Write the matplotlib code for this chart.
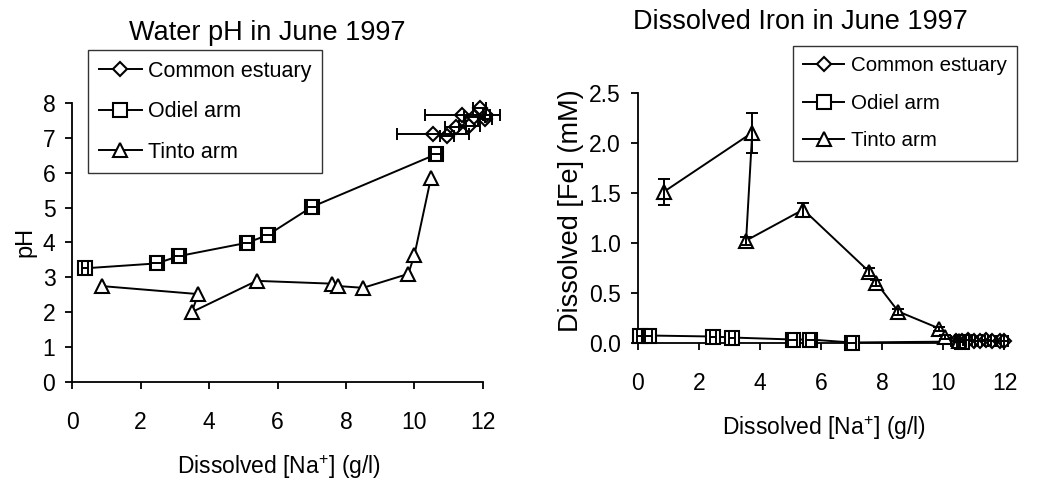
import matplotlib.pyplot as plt
from matplotlib.lines import Line2D

plt.rcParams['font.family'] = 'Liberation Sans'
plt.rcParams['mathtext.fontset'] = 'custom'
plt.rcParams['mathtext.rm'] = 'Liberation Sans'
plt.rcParams['mathtext.it'] = 'Liberation Sans'

# water pH, June 1997
ph_estuary_na = [10.55, 10.95, 11.2, 11.4, 11.6, 11.75, 11.9, 12.05, 12.1]
ph_estuary = [7.1, 7.05, 7.3, 7.65, 7.35, 7.6, 7.85, 7.55, 7.65]
ph_estuary_err = [1.05, 0.2, 0.3, 1.1, 0.3, 0.3, 0.2, 0.2, 0.1]
ph_odiel_na = [0.38, 2.47, 3.12, 5.1, 5.71, 7.0, 10.63]
ph_odiel = [3.26, 3.4, 3.61, 3.99, 4.21, 5.02, 6.53]
ph_odiel_err = [0.1, 0.15, 0.15, 0.15, 0.15, 0.15, 0.15]
ph_tinto_na = [0.87, 3.69, 3.49, 5.39, 7.58, 7.78, 8.5, 9.82, 10.0, 10.48]
ph_tinto = [2.75, 2.52, 2.0, 2.9, 2.82, 2.75, 2.7, 3.1, 3.65, 5.85]

# dissolved iron, June 1997
fe_estuary_na = [10.4, 10.6, 10.8, 11.0, 11.2, 11.4, 11.6, 11.85, 12.0]
fe_estuary = [0.02, 0.02, 0.03, 0.02, 0.02, 0.03, 0.02, 0.02, 0.02]
fe_estuary_err = [0.15, 0.15, 0.15, 0.15, 0.15, 0.15, 0.15, 0.15, 0.1]
fe_odiel_na = [0.08, 0.36, 2.48, 3.08, 5.08, 5.65, 7.0, 10.6]
fe_odiel = [0.07, 0.07, 0.06, 0.05, 0.03, 0.03, 0.0, 0.01]
fe_odiel_err = [0.1, 0.1, 0.1, 0.1, 0.15, 0.15, 0.15, 0.1]
fe_tinto_na = [0.87, 3.75, 3.55, 5.42, 7.57, 7.8, 8.53, 9.87, 10.05, 10.5]
fe_tinto = [1.51, 2.1, 1.02, 1.33, 0.71, 0.6, 0.31, 0.14, 0.06, 0.02]
fe_tinto_err = [0.13, 0.2, 0.04, 0.07, 0.04, 0.03, 0.03, 0.02, 0.02, 0.01]

labels = ["Common estuary", "Odiel arm", "Tinto arm"]
markers = ["D", "s", "^"]

fig = plt.figure(figsize=(10.38, 4.82), dpi=100)
ax1 = fig.add_axes([0.0694, 0.2075, 0.3959, 0.5788])
ax2 = fig.add_axes([0.6142, 0.2894, 0.3535, 0.5183])


def series(ax, x, y, m, s, xerr=None, yerr=None):
    ax.plot(x, y, color="black", lw=1.4, marker=m, ms=s, mfc="white",
            mec="black", mew=1.5, clip_on=False, zorder=3)
    if xerr is not None or yerr is not None:
        ax.errorbar(x, y, xerr=xerr, yerr=yerr, fmt="none", ecolor="black",
                    elinewidth=1.4, capsize=4, capthick=1.4, clip_on=False, zorder=4)


series(ax1, ph_estuary_na, ph_estuary, "D", 7, xerr=ph_estuary_err)
series(ax1, ph_odiel_na, ph_odiel, "s", 10, xerr=ph_odiel_err)
series(ax1, ph_tinto_na, ph_tinto, "^", 10)

series(ax2, fe_estuary_na, fe_estuary, "D", 7, xerr=fe_estuary_err)
series(ax2, fe_odiel_na, fe_odiel, "s", 10, xerr=fe_odiel_err)
series(ax2, fe_tinto_na, fe_tinto, "^", 10, yerr=fe_tinto_err)

for ax in (ax1, ax2):
    for side in ("top", "right"):
        ax.spines[side].set_visible(False)
    for side in ("left", "bottom"):
        ax.spines[side].set_linewidth(1.3)
    ax.set_xlim(0, 12)
    ax.set_xticks([0, 2, 4, 6, 8, 10, 12])
    ax.tick_params(direction="out", length=5, width=1.3, labelsize=16.5)
    ax.tick_params(axis="x", pad=16)
    ax.tick_params(axis="y", pad=7)

ax1.set_ylim(0, 8)
ax1.set_yticks(range(9))
ax2.set_ylim(0, 2.5)
ax2.set_yticks([0, 0.5, 1.0, 1.5, 2.0, 2.5])
ax2.set_yticklabels(["0.0", "0.5", "1.0", "1.5", "2.0", "2.5"])

fig.text(267 / 1038, 1 - 33 / 482, "Water pH in June 1997", fontsize=19.5,
         ha="center", va="center")
fig.text(800 / 1038, 1 - 22 / 482, "Dissolved Iron in June 1997", fontsize=19.5,
         ha="center", va="center")

fig.text(279 / 1038, 1 - 467 / 482, r"Dissolved [Na$^{+}$] (g/l)", fontsize=16.5,
         ha="center", va="center")
fig.text(824 / 1038, 1 - 428 / 482, r"Dissolved [Na$^{+}$] (g/l)", fontsize=16.5,
         ha="center", va="center")
fig.text(25 / 1038, 1 - 242 / 482, "pH", fontsize=17, rotation=90,
         ha="center", va="center")
fig.text(571 / 1038, 1 - 211 / 482, "Dissolved [Fe] (mM)", fontsize=19.5,
         rotation=90, ha="center", va="center")

handles = [Line2D([], [], color="black", lw=1.4, marker=m, ms=s, mfc="white",
                  mec="black", mew=1.5) for m, s in zip(markers, [7, 10, 10])]

for x0, y0, fs in [(88, 50, 15.5), (793, 46, 14.8)]:
    leg = fig.legend(handles, labels, loc="upper left",
                     bbox_to_anchor=(x0 / 1038, 1 - y0 / 482),
                     bbox_transform=fig.transFigure, borderaxespad=0,
                     fontsize=fs, frameon=True, fancybox=False,
                     edgecolor="black", handlelength=2.0, handletextpad=0.3,
                     labelspacing=0.9, borderpad=0.5)
    leg.get_frame().set_linewidth(1.0)

fig.savefig("out.png", dpi=100)
